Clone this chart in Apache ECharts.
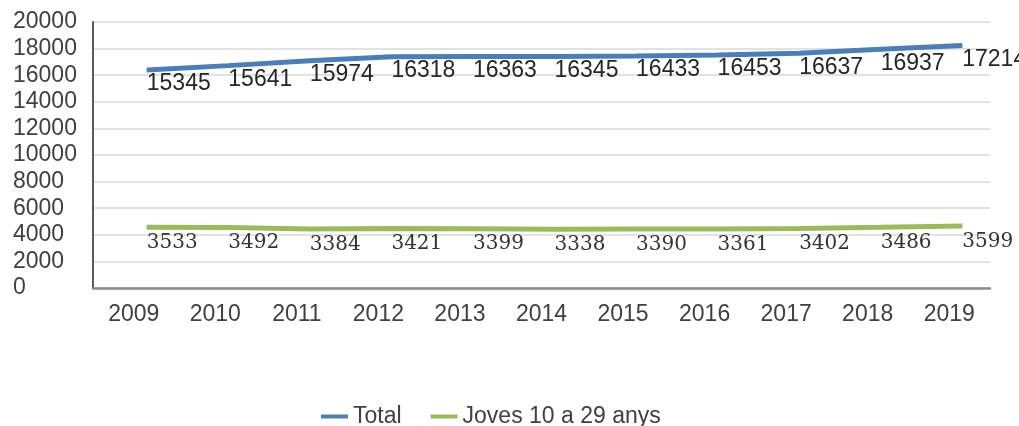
<!DOCTYPE html>
<html><head><meta charset="utf-8">
<script src="https://cdn.jsdelivr.net/npm/echarts@6/dist/echarts.min.js"></script>
<style>html,body{margin:0;padding:0;background:#fff}#c{width:1019px;height:426px}</style>
</head><body><div id="c"></div>
<script>
const years = ['2009','2010','2011','2012','2013','2014','2015','2016','2017','2018','2019'];
// line positions as drawn in the picture
const totalLine = [16400, 16720, 17080, 17390, 17400, 17400, 17450, 17510, 17650, 17950, 18230];
const jovesLine = [4570, 4540, 4440, 4480, 4460, 4410, 4440, 4430, 4480, 4560, 4660];
// data labels as printed
const totalLabels = [15345, 15641, 15974, 16318, 16363, 16345, 16433, 16453, 16637, 16937, 17214];
const jovesLabels = [3533, 3492, 3384, 3421, 3399, 3338, 3390, 3361, 3402, 3486, 3599];
const yTicks = {min: 0, max: 20000, interval: 2000};

const txt = '#404040';
const chart = echarts.init(document.getElementById('c'), null, {renderer: 'canvas'});
chart.setOption({
  animation: false,
  textStyle: {fontFamily: 'Liberation Sans'},
  grid: [
    {left: 93, right: 29, top: 22, bottom: 138},
    {left: 106, right: 16, top: 22, bottom: 138}
  ],
  legend: {
    left: 316, top: 400,
    itemWidth: 27, itemHeight: 4, itemGap: 29,
    icon: 'rect',
    textStyle: {fontSize: 23, color: txt, fontFamily: 'Liberation Sans'},
    data: ['Total', 'Joves 10 a 29 anys']
  },
  xAxis: [
    {type: 'category', gridIndex: 0, data: years, boundaryGap: true,
     axisLine: {lineStyle: {color: '#8c8c8c', width: 2.5}},
     axisTick: {show: false},
     axisLabel: {fontSize: 23, color: txt, margin: 15, fontFamily: 'Liberation Sans'},
     splitLine: {show: false}},
    {type: 'category', gridIndex: 1, data: years, boundaryGap: true, show: false}
  ],
  yAxis: [
    {type: 'value', gridIndex: 0, min: yTicks.min, max: yTicks.max, interval: yTicks.interval,
     axisLine: {show: true, lineStyle: {color: '#595959', width: 2}},
     axisTick: {show: false},
     axisLabel: {fontSize: 23, color: txt, align: 'left', margin: 80, fontFamily: 'Liberation Sans',
       formatter: v => String(v)},
     splitLine: {lineStyle: {color: '#d9d9d9', width: 1.5}}},
    {type: 'value', gridIndex: 1, min: yTicks.min, max: yTicks.max, interval: yTicks.interval, show: false,
     splitLine: {show: false}}
  ],
  series: [
    {name: 'Total', type: 'line', xAxisIndex: 1, yAxisIndex: 1, data: totalLine,
     symbol: 'circle', symbolSize: 1, showSymbol: true, color: '#4a7ebb',
     lineStyle: {width: 5, color: '#4a7ebb'},
     label: {show: true, position: 'bottom', distance: 2, align: 'left',
       fontSize: 23, color: '#262626', fontFamily: 'Liberation Sans',
       formatter: p => String(totalLabels[p.dataIndex])}},
    {name: 'Joves 10 a 29 anys', type: 'line', xAxisIndex: 1, yAxisIndex: 1, data: jovesLine,
     symbol: 'circle', symbolSize: 1, showSymbol: true, color: '#9bbb59',
     lineStyle: {width: 5, color: '#9bbb59'},
     label: {show: true, position: 'bottom', distance: 5, align: 'left',
       fontSize: 20, color: '#333333', fontFamily: 'DejaVu Serif',
       formatter: p => String(jovesLabels[p.dataIndex])}}
  ]
});
</script></body></html>
